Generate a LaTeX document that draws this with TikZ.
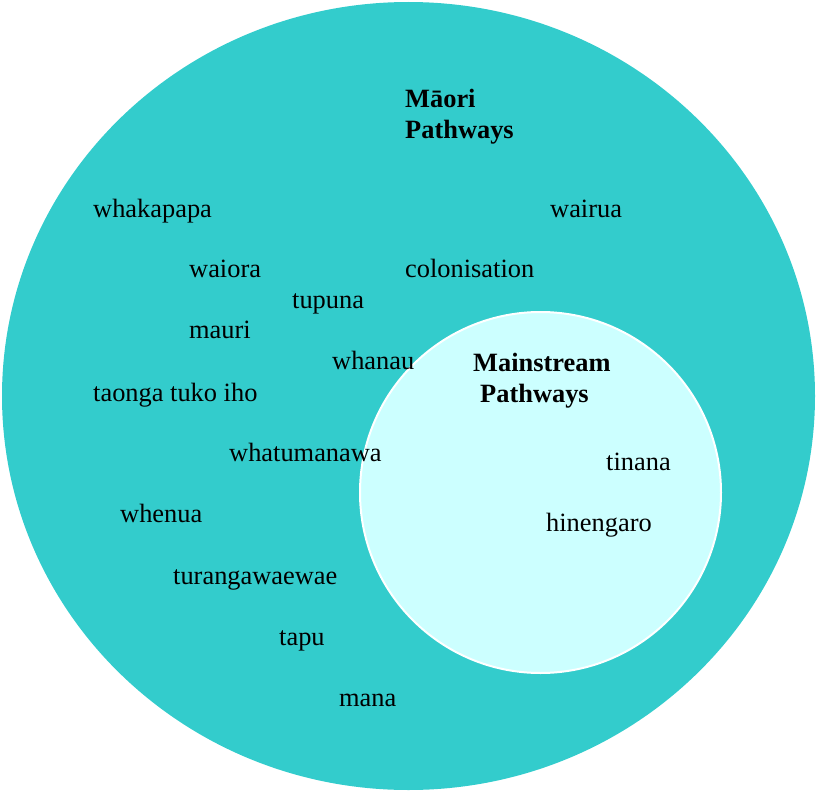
\documentclass[tikz,border=0pt]{standalone}
\usepackage{fontspec}
\setmainfont{Liberation Serif}
\definecolor{outerteal}{HTML}{33CCCC}
\definecolor{innercyan}{HTML}{CCFFFF}
\begin{document}
\begin{tikzpicture}[x=1pt,y=-1pt,
  word/.style={anchor=base west,inner sep=0pt,font=\fontsize{26.4}{30}\selectfont},
  title/.style={anchor=base west,inner sep=0pt,font=\fontsize{26.4}{30}\selectfont\bfseries}]
\useasboundingbox (0,0) rectangle (817,792);
\fill[outerteal] (408.5,396) ellipse [x radius=406.5pt, y radius=394pt];
\filldraw[fill=innercyan,draw=white,line width=2pt] (540.5,492.5) circle [radius=180.5pt];
\node[title] (m1) at (405,107) {Māori};
\node[title] (m2) at (405,138) {Pathways};
\node[title] (s1) at (473,371) {Mainstream};
\node[title] (s2) at (480,402) {Pathways};
\node[word] (w1) at (93,217) {whakapapa};
\node[word] (w2) at (550,217) {wairua};
\node[word] (w3) at (189,277) {waiora};
\node[word] (w4) at (405,277) {colonisation};
\node[word] (w5) at (292,308) {tupuna};
\node[word] (w6) at (189,338) {mauri};
\node[word] (w7) at (332,369) {whanau};
\node[word] (w8) at (93,401) {taonga tuko iho};
\node[word] (w9) at (229,461) {whatumanawa};
\node[word] (w10) at (606,470) {tinana};
\node[word] (w11) at (120,522) {whenua};
\node[word] (w12) at (546,531) {hinengaro};
\node[word] (w13) at (173,584) {turangawaewae};
\node[word] (w14) at (279,645) {tapu};
\node[word] (w15) at (339,706) {mana};
\end{tikzpicture}
\end{document}
